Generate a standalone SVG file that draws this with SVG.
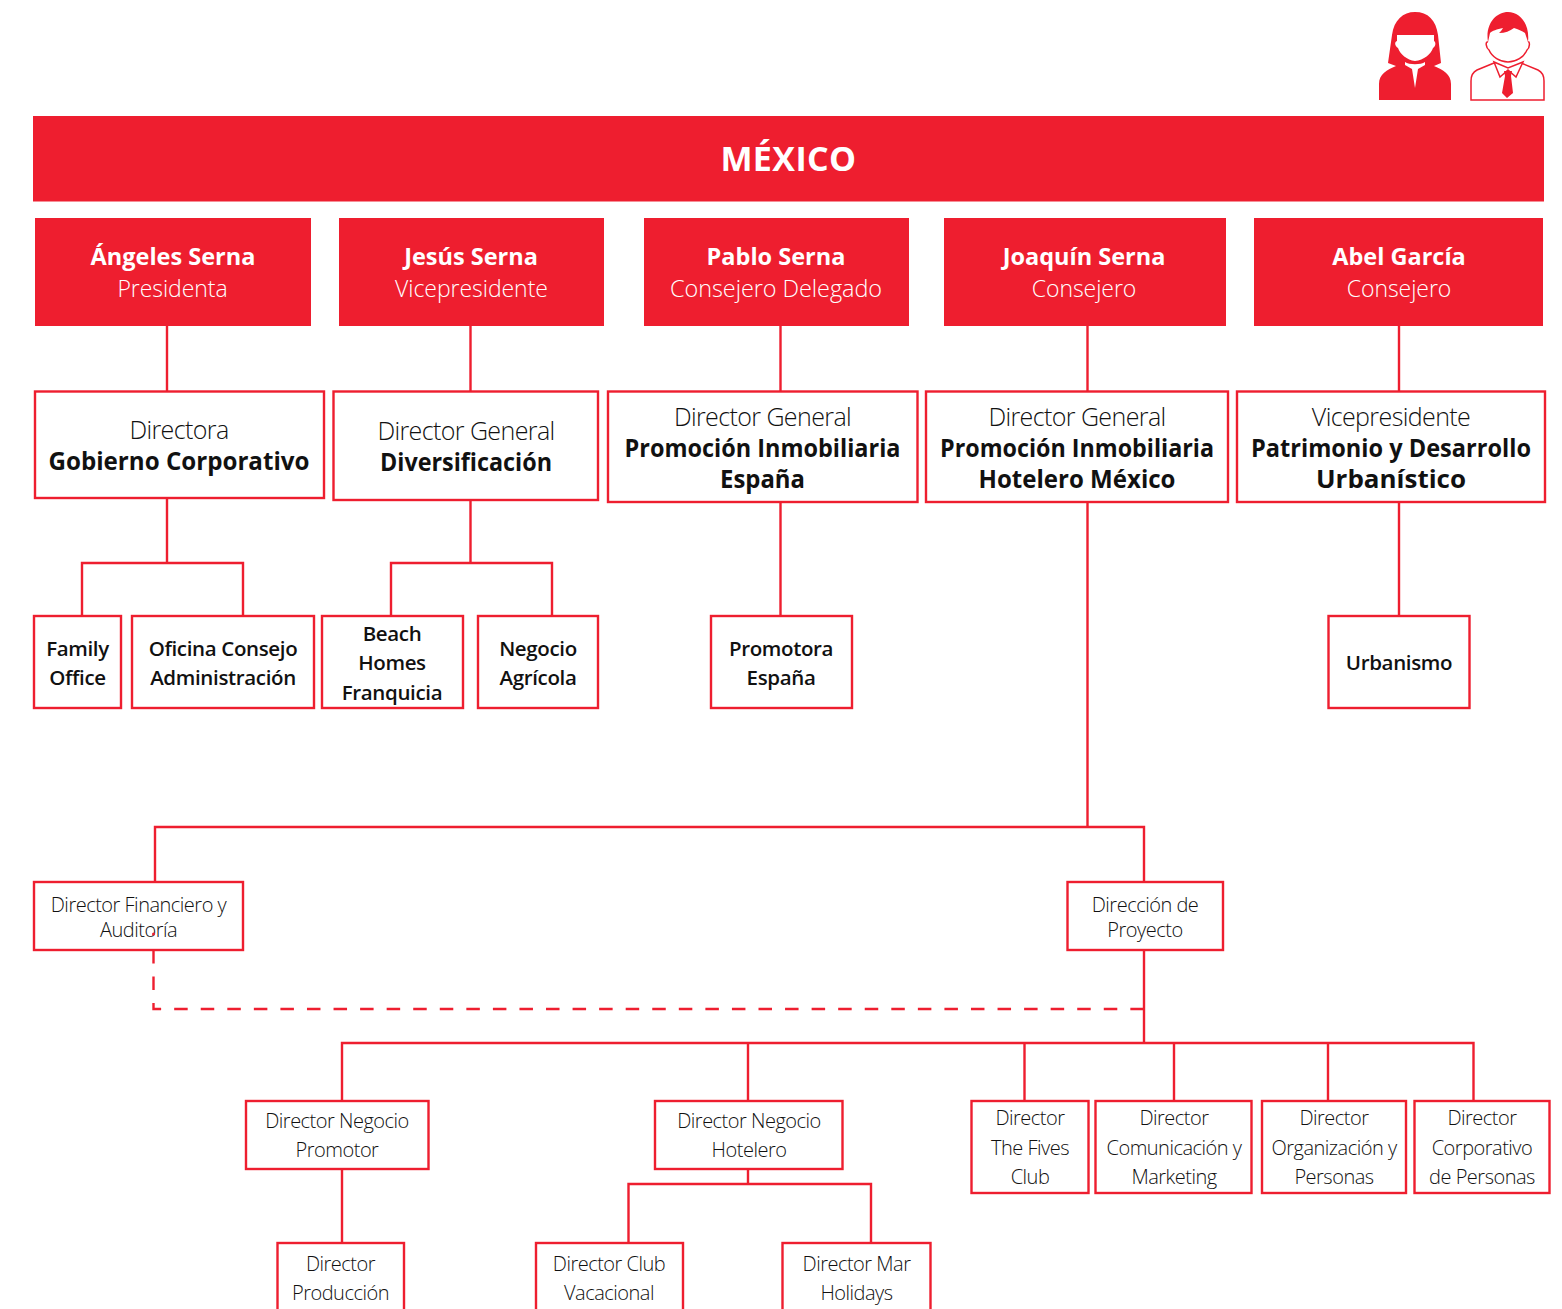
<svg xmlns="http://www.w3.org/2000/svg" width="1562" height="1309" viewBox="0 0 1562 1309">
<style>
text{font-family:"Open Sans","Noto Sans","Liberation Sans",sans-serif;text-anchor:middle}
.r{fill:#ee1e2f}
.b{fill:#fff;stroke:#ee1e2f;stroke-width:2.4}
.c{fill:none;stroke:#ee1e2f;stroke-width:2.4}
.d{stroke-dasharray:13.500 13.060}
.i{fill:#fff;stroke:#ee1e2f;stroke-width:1.500}
.h{font-size:34px;font-weight:700;fill:#fff;letter-spacing:.4px}
.n{font-size:23.500px;font-weight:700;fill:#fff;letter-spacing:0}
.s{font-size:23px;font-weight:300;fill:#fff;letter-spacing:-.05px}
.t{font-size:25px;font-weight:300;fill:#111;letter-spacing:-.6px}
.m{font-size:25px;font-weight:700;fill:#111}
.k{font-size:20.500px;font-weight:600;fill:#111;letter-spacing:-.35px}
.l{font-size:20px;font-weight:300;fill:#111;letter-spacing:-.5px}
</style>
<g id="connectors">
<path class="c" d="M167 326V391M167 498V563M82 616V563H243V616"/>
<path class="c" d="M470.500 326V391M470.500 500V563M391 616V563H552V616"/>
<path class="c" d="M780.500 326V391M780.500 502V616"/>
<path class="c" d="M1087.500 326V391M1087.500 502V827"/>
<path class="c" d="M1399 326V391M1399 502V616"/>
<path class="c" d="M155 882V827H1144V882"/>
<path class="c" d="M1144 950V1043"/>
<path class="c d" d="M153.500 950V1009H1144"/>
<path class="c" d="M342 1101V1043H1473.500V1101M748 1043V1101M1024.500 1043V1101M1174 1043V1101M1328 1043V1101"/>
<path class="c" d="M342 1169V1243M748 1169V1184M628.500 1243V1184H871V1243"/>
</g>
<g id="icon-woman">
<path class="r" d="M1388 63L1392 35C1394 20 1403 12 1415 12C1428 12 1436 20 1438 35L1441 63L1434 66C1443 70 1451 74 1451 84V100H1379V84C1379 74 1387 70 1396 66Z"/>
<path fill="#fff" d="M1397 35H1434V41C1436 42 1436 46 1433 48C1431 54 1424 60 1415 61C1407 60 1400 54 1398 48C1395 46 1394 42 1397 41Z"/>
<path fill="#fff" d="M1405 62C1409 65 1421 65 1425 62L1425 65L1418 69L1415 88L1412 69L1405 65Z"/>
</g>
<g id="icon-man">
<path class="i" d="M1494 63L1477 70C1473 72 1471 76 1471 81V100H1544V81C1544 76 1542 72 1538 70L1521 63"/>
<path class="i" d="M1494 62L1500 77L1508 70L1516 77L1523 62L1508 68Z"/>
<path class="r" d="M1504 71H1512L1511 76L1513 93L1507 98L1502 93L1505 76Z"/>
<path fill="#fff" stroke="none" d="M1488 42C1485 41 1486 48 1489 50C1492 57 1500 62 1508 62C1516 62 1524 57 1527 50C1530 48 1530 41 1528 42L1525 28H1490Z"/>
<path fill="none" stroke="#ee1e2f" stroke-width="1.500" d="M1488 42C1485 41 1486 48 1489 50C1492 57 1500 62 1508 62C1516 62 1524 57 1527 50C1530 48 1530 41 1528 42"/>
<path class="r" d="M1488 42C1485 24 1496 12 1508 12C1520 12 1530 24 1528 42L1525 33C1522 31 1518 29 1514 28C1510 31 1505 33 1499 33C1501 31 1502 30 1503 28C1497 29 1492 31 1490 33Z"/>
</g>
<g id="mexico"><rect class="r" x="33" y="116" width="1511" height="85.500"/><text class="h" x="788.500" y="171">MÉXICO</text></g>
<g id="angeles"><rect class="r" x="35" y="218" width="276" height="108"/><text class="n" x="173" y="265">Ángeles Serna</text><text class="s" x="172.500" y="297">Presidenta</text></g>
<g id="jesus"><rect class="r" x="339" y="218" width="265" height="108"/><text class="n" x="471" y="265">Jesús Serna</text><text class="s" x="471.500" y="297">Vicepresidente</text></g>
<g id="pablo"><rect class="r" x="644" y="218" width="265" height="108"/><text class="n" x="776" y="265">Pablo Serna</text><text class="s" x="776" y="297" textLength="212" lengthAdjust="spacingAndGlyphs">Consejero Delegado</text></g>
<g id="joaquin"><rect class="r" x="944" y="218" width="282" height="108"/><text class="n" x="1084" y="265">Joaquín Serna</text><text class="s" x="1084" y="297">Consejero</text></g>
<g id="abel"><rect class="r" x="1254" y="218" width="289" height="108"/><text class="n" x="1399" y="265">Abel García</text><text class="s" x="1399" y="297">Consejero</text></g>
<g id="gobierno"><rect class="b" x="35" y="391.500" width="289" height="106.500"/><text class="t" x="179" y="439">Directora</text><text class="m" x="179" y="470" textLength="261" lengthAdjust="spacingAndGlyphs">Gobierno Corporativo</text></g>
<g id="diversificacion"><rect class="b" x="333.500" y="391.500" width="264.500" height="108.500"/><text class="t" x="466" y="440">Director General</text><text class="m" x="466" y="471" textLength="172" lengthAdjust="spacingAndGlyphs">Diversificación</text></g>
<g id="pi-espana"><rect class="b" x="608" y="391.500" width="309.500" height="110.500"/><text class="t" x="762.500" y="426">Director General</text><text class="m" x="762.500" y="457" textLength="276" lengthAdjust="spacingAndGlyphs">Promoción Inmobiliaria</text><text class="m" x="762.500" y="488" textLength="85" lengthAdjust="spacingAndGlyphs">España</text></g>
<g id="pi-mexico"><rect class="b" x="926" y="391.500" width="302" height="110.500"/><text class="t" x="1077" y="426">Director General</text><text class="m" x="1077" y="457" textLength="274" lengthAdjust="spacingAndGlyphs">Promoción Inmobiliaria</text><text class="m" x="1077" y="488" textLength="197" lengthAdjust="spacingAndGlyphs">Hotelero México</text></g>
<g id="patrimonio"><rect class="b" x="1237" y="391.500" width="308" height="110.500"/><text class="t" x="1391" y="426">Vicepresidente</text><text class="m" x="1391" y="457" textLength="280" lengthAdjust="spacingAndGlyphs">Patrimonio y Desarrollo</text><text class="m" x="1391" y="488" textLength="150" lengthAdjust="spacingAndGlyphs">Urbanístico</text></g>
<g id="family"><rect class="b" x="34" y="616" width="87" height="92"/><text class="k" x="77.500" y="656">Family</text><text class="k" x="77.500" y="685">Office</text></g>
<g id="oficina"><rect class="b" x="132" y="616" width="182" height="92"/><text class="k" x="223" y="656">Oficina Consejo</text><text class="k" x="223" y="685">Administración</text></g>
<g id="beach"><rect class="b" x="322" y="616" width="141" height="92"/><text class="k" x="392" y="641">Beach</text><text class="k" x="392" y="670">Homes</text><text class="k" x="392" y="700">Franquicia</text></g>
<g id="negocio"><rect class="b" x="478" y="616" width="120" height="92"/><text class="k" x="538" y="656">Negocio</text><text class="k" x="538" y="685">Agrícola</text></g>
<g id="promotora"><rect class="b" x="711" y="616" width="141" height="92"/><text class="k" x="781" y="656">Promotora</text><text class="k" x="781" y="685">España</text></g>
<g id="urbanismo"><rect class="b" x="1328.500" y="616" width="141" height="92"/><text class="k" x="1399" y="670">Urbanismo</text></g>
<g id="financiero"><rect class="b" x="34" y="882" width="209" height="68"/><text class="l" x="138.500" y="912">Director Financiero y</text><text class="l" x="138.500" y="937">Auditoría</text></g>
<g id="proyecto"><rect class="b" x="1067.500" y="882" width="155.500" height="68"/><text class="l" x="1145" y="912">Dirección de</text><text class="l" x="1145" y="937">Proyecto</text></g>
<g id="promotor"><rect class="b" x="246" y="1101" width="182.500" height="68"/><text class="l" x="337" y="1128">Director Negocio</text><text class="l" x="337" y="1157">Promotor</text></g>
<g id="hotelero"><rect class="b" x="655" y="1101" width="187.500" height="68"/><text class="l" x="749" y="1128">Director Negocio</text><text class="l" x="749" y="1157">Hotelero</text></g>
<g id="fives"><rect class="b" x="971.500" y="1101" width="117" height="92"/><text class="l" x="1030" y="1125">Director</text><text class="l" x="1030" y="1155">The Fives</text><text class="l" x="1030" y="1184">Club</text></g>
<g id="comunicacion"><rect class="b" x="1095.500" y="1101" width="156" height="92"/><text class="l" x="1174" y="1125">Director</text><text class="l" x="1174" y="1155">Comunicación y</text><text class="l" x="1174" y="1184">Marketing</text></g>
<g id="organizacion"><rect class="b" x="1262" y="1101" width="144" height="92"/><text class="l" x="1334" y="1125">Director</text><text class="l" x="1334" y="1155">Organización y</text><text class="l" x="1334" y="1184">Personas</text></g>
<g id="corporativo"><rect class="b" x="1414.500" y="1101" width="135" height="92"/><text class="l" x="1482" y="1125">Director</text><text class="l" x="1482" y="1155">Corporativo</text><text class="l" x="1482" y="1184">de Personas</text></g>
<g id="produccion"><rect class="b" x="277.500" y="1243" width="126.500" height="70"/><text class="l" x="340.500" y="1271">Director</text><text class="l" x="340.500" y="1300">Producción</text></g>
<g id="club"><rect class="b" x="536" y="1243" width="147" height="70"/><text class="l" x="609" y="1271">Director Club</text><text class="l" x="609" y="1300">Vacacional</text></g>
<g id="mar"><rect class="b" x="782.500" y="1243" width="148" height="70"/><text class="l" x="856.500" y="1271">Director Mar</text><text class="l" x="856.500" y="1300">Holidays</text></g>
<circle class="r" cx="153.500" cy="934" r="1.500"/>
</svg>
